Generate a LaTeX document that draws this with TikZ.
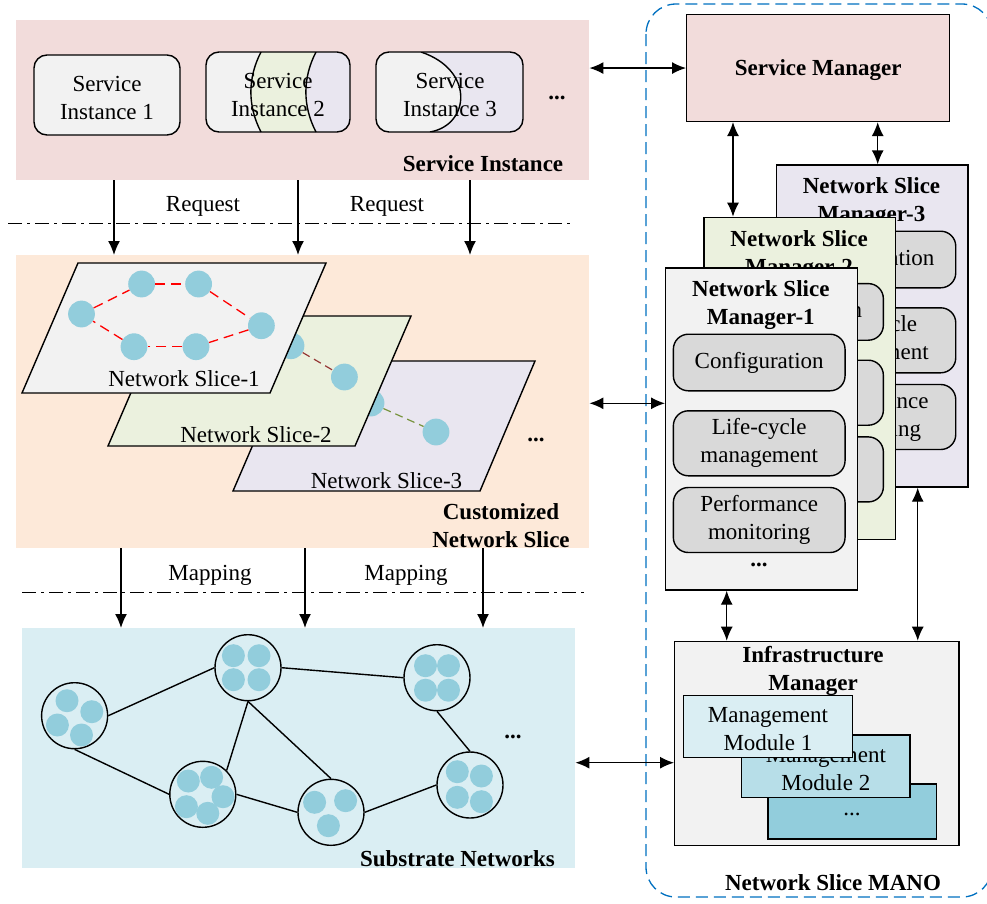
\documentclass[tikz,border=0pt]{standalone}
\usepackage{fontspec}
\setmainfont{Liberation Serif}
\usetikzlibrary{arrows.meta,positioning}

\definecolor{sipink}{HTML}{F2DCDB}
\definecolor{cnspeach}{HTML}{FDE9D9}
\definecolor{subblue}{HTML}{DAEEF3}
\definecolor{boxgray}{HTML}{F2F2F2}
\definecolor{slgreen}{HTML}{EBF1DE}
\definecolor{sllav}{HTML}{E9E6F0}
\definecolor{dotblue}{HTML}{92CDDC}
\definecolor{modgray}{HTML}{D9D9D9}
\definecolor{mmblue}{HTML}{B7DEE8}
\definecolor{manoblue}{HTML}{0070C0}
\definecolor{edgebrown}{HTML}{953735}
\definecolor{edgeolive}{HTML}{77933C}

\tikzset{
  txt/.style={font=\fontsize{23}{28}\selectfont, align=center, yshift=-2.5pt},
  bold/.style={font=\fontsize{23}{28}\selectfont\bfseries, align=center, yshift=-2.5pt},
  band/.style={inner sep=0pt, anchor=north west},
  mbox/.style={draw, line width=1.4pt, inner sep=0pt, anchor=north west},
  module/.style={draw, fill=modgray, rounded corners=15pt, line width=1.4pt, minimum width=171.7pt, inner sep=0pt, txt},
  sinode/.style={circle, fill=dotblue, minimum size=26.8pt, inner sep=0pt},
  subnode/.style={circle, draw, fill=subblue, line width=1.4pt, minimum size=66pt, inner sep=0pt},
  slice/.style={draw, line width=1.4pt},
  link/.style={line width=1.4pt, -{Latex[length=14pt,width=12pt]}},
  biglink/.style={line width=1.4pt, {Latex[length=14pt,width=12pt]}-{Latex[length=14pt,width=12pt]}},
  sep/.style={line width=1pt, dash pattern=on 14pt off 5pt on 3pt off 5pt}
}

\begin{document}
\begin{tikzpicture}[x=1pt, y=-1pt]
  \useasboundingbox (0,0) rectangle (987,903);

  % layer bands
  \node[band, fill=sipink, minimum width=573pt, minimum height=160pt] (siband) at (16,20) {};
  \node[band, fill=cnspeach, minimum width=573pt, minimum height=293pt] (cnsband) at (16,255) {};
  \node[band, fill=subblue, minimum width=553pt, minimum height=240pt] (subband) at (22,628) {};

  % service instances
  \fill[boxgray, rounded corners=13pt] (34,55) rectangle (180,135);
  \draw[line width=1.4pt, rounded corners=13pt] (34,55) rectangle (180,135);
  \node[txt] (si1) at (107,95) {Service\\Instance 1};

  \begin{scope}
    \clip[rounded corners=13pt] (206,52) rectangle (350,132);
    \fill[sllav] (206,52) rectangle (350,132);
    \fill[boxgray] (206,52) -- (261,52) .. controls (247.5,78) and (247.5,106) .. (261,132) -- (206,132) -- cycle;
    \fill[slgreen] (261,52) .. controls (247.5,78) and (247.5,106) .. (261,132) -- (316,132) .. controls (302.5,106) and (302.5,78) .. (316,52) -- cycle;
    \draw[line width=1.4pt] (261,52) .. controls (247.5,78) and (247.5,106) .. (261,132);
    \draw[line width=1.4pt] (316,52) .. controls (302.5,78) and (302.5,106) .. (316,132);
  \end{scope}
  \draw[line width=1.4pt, rounded corners=13pt] (206,52) rectangle (350,132);
  \node[txt] (si2) at (278,92) {Service\\Instance 2};

  \begin{scope}
    \clip[rounded corners=13pt] (376,52) rectangle (523,132);
    \fill[sllav] (376,52) rectangle (523,132);
    \fill[boxgray] (376,52) -- (421,52) .. controls (475,70) and (470,125) .. (430,132) -- (376,132) -- cycle;
    \draw[line width=1.4pt] (421,52) .. controls (475,70) and (470,125) .. (430,132);
  \end{scope}
  \draw[line width=1.4pt, rounded corners=13pt] (376,52) rectangle (523,132);
  \node[txt] (si3) at (450,92) {Service\\Instance 3};
  \node[bold] (sidots) at (557,95) {...};
  \node[bold] (silabel) at (483,161) {Service Instance};

  % request arrows
  \draw[sep] (8,223) -- (570,223);
  \foreach \x in {114,298,470} {
    \draw[link] (siband.south -| \x,0) -- (cnsband.north -| \x,0);
  }
  \node[txt] (req1) at (203,204) {Request};
  \node[txt] (req2) at (387,204) {Request};

  % network slices
  \draw[slice, fill=sllav] (289,361) -- (535,361) -- (480,491) -- (233,491) -- cycle;
  \node[sinode] (s3a) at (371,403) {};
  \node[sinode] (s3b) at (436,432) {};
  \draw[edgeolive, line width=1.2pt, dash pattern=on 8pt off 5pt] (s3a) -- (s3b);
  \node[txt] (ns3) at (386.5,478) {Network Slice-3};

  \draw[slice, fill=slgreen] (164,316) -- (411,316) -- (355,446) -- (108,446) -- cycle;
  \node[sinode] (s2a) at (291,345.7) {};
  \node[sinode] (s2b) at (344.4,377) {};
  \draw[edgebrown, line width=1.2pt, dash pattern=on 8pt off 5pt] (s2a) -- (s2b);
  \node[txt] (ns2) at (256,432) {Network Slice-2};

  \draw[slice, fill=boxgray] (78,263) -- (326,263) -- (270,393) -- (22,393) -- cycle;
  \node[sinode] (s1a) at (81.5,314) {};
  \node[sinode] (s1b) at (141.6,284) {};
  \node[sinode] (s1c) at (198.6,284) {};
  \node[sinode] (s1d) at (261.4,325.7) {};
  \node[sinode] (s1e) at (196,346.7) {};
  \node[sinode] (s1f) at (134,346.7) {};
  \foreach \a/\b in {s1a/s1b, s1b/s1c, s1c/s1d, s1d/s1e, s1e/s1f, s1f/s1a} {
    \draw[red, line width=1.3pt, dash pattern=on 10pt off 6pt] (\a) -- (\b);
  }
  \node[txt] (ns1) at (184,376) {Network Slice-1};
  \node[bold] (nsdots) at (536,437) {...};
  \node[bold] (cnslabel) at (501,523) {Customized\\Network Slice};

  % mapping arrows
  \draw[sep] (22,592) -- (584,592);
  \foreach \x in {121,305,483} {
    \draw[link] (cnsband.south -| \x,0) -- (subband.north -| \x,0);
  }
  \node[txt] (map1) at (210,573) {Mapping};
  \node[txt] (map2) at (406,573) {Mapping};

  % substrate networks
  \node[subnode] (na) at (74.6,715.7) {};
  \node[subnode] (nb) at (248,667.7) {};
  \node[subnode] (nc) at (437,677.7) {};
  \node[subnode] (nd) at (202.8,794.3) {};
  \node[subnode] (ne) at (331,812.3) {};
  \node[subnode] (nf) at (470,785) {};
  \draw[line width=1.4pt] (na.east) -- (nb.west);
  \draw[line width=1.4pt] (na.south) -- (nd.west);
  \draw[line width=1.4pt] (nb.south) -- (nd.45);
  \draw[line width=1.4pt] (nb.south) -- (ne.north);
  \draw[line width=1.4pt] (nb.east) -- (nc.west);
  \draw[line width=1.4pt] (nc.south) -- (nf.north);
  \draw[line width=1.4pt] (nd.east) -- (ne.west);
  \draw[line width=1.4pt] (ne.east) -- (nf.west);
  \foreach \dx/\dy in {-7.6/-15, 17.2/-4, -17.2/9.3, 6.9/19.3} {
    \fill[dotblue] (74.6+\dx,715.7+\dy) circle (11.5);
  }
  \foreach \dx/\dy in {-14.6/-12, 11/-12, -14.6/12, 11/12} {
    \fill[dotblue] (248+\dx,667.7+\dy) circle (11.5);
  }
  \foreach \dx/\dy in {-11.5/-12, 11.5/-12, -11.5/12.5, 11.5/12.5} {
    \fill[dotblue] (437+\dx,677.7+\dy) circle (11.5);
  }
  \foreach \dx/\dy in {-14.5/-13.3, 8.8/-17, 20.2/2.4, -16.4/12.4, 5/19} {
    \fill[dotblue] (202.8+\dx,794.3+\dy) circle (11.5);
  }
  \foreach \dx/\dy in {-16.4/-10, 14.6/-11.6, -2.6/13.4} {
    \fill[dotblue] (331+\dx,812.3+\dy) circle (11.5);
  }
  \foreach \dx/\dy in {-12.7/-13.3, 11.4/-9, -12.7/12.3, 11.4/16.7} {
    \fill[dotblue] (470+\dx,785+\dy) circle (11.5);
  }
  \node[bold] (subdots) at (513,734) {...};
  \node[bold] (sublabel) at (457.5,856) {Substrate Networks};

  % network slice MANO
  \draw[manoblue, line width=1.3pt, dash pattern=on 12pt off 6pt, rounded corners=30pt] (646,4) rectangle (992,897);
  \node[bold] (manolabel) at (833,880) {Network Slice MANO};

  \node[mbox, fill=sipink, minimum width=263pt, minimum height=106.7pt] (sm) at (686,14) {};
  \node[bold] (smlabel) at (sm.center) {Service Manager};

  \foreach \k/\dx/\dy/\col in {3/110.7/-103/sllav, 2/38.3/-50.6/slgreen, 1/0/0/boxgray} {
    \begin{scope}[shift={(\dx,\dy)}]
      \node[mbox, fill=\col, minimum width=191.7pt, minimum height=322pt] (nsm\k) at (665,267.3) {};
      \node[bold] (nsm\k-title) at (760.8,303) {Network Slice\\Manager-\k};
      \node[module, minimum height=56.6pt] (nsm\k-conf) at (759.2,360) {Configuration};
      \node[module, minimum height=65pt] (nsm\k-life) at (759.2,440.8) {Life-cycle\\management};
      \node[module, minimum height=65pt] (nsm\k-perf) at (759.2,517.5) {Performance\\monitoring};
      \node[bold] (nsm\k-dots) at (759,562) {...};
    \end{scope}
  }

  \node[mbox, fill=boxgray, minimum width=284.3pt, minimum height=204.3pt] (infra) at (674,640.7) {};
  \node[bold] (infratitle) at (813,668) {Infrastructure\\Manager};
  \node[mbox, fill=dotblue, minimum width=168.7pt, minimum height=55pt] (mm3) at (767.3,783.3) {};
  \node[txt] (mm3dots) at (852,812) {...};
  \node[mbox, fill=mmblue, minimum width=168.3pt, minimum height=62.4pt] (mm2) at (741,734.3) {};
  \node[txt] (mm2label) at (mm2.center) {Management\\Module 2};
  \node[mbox, fill=subblue, minimum width=169pt, minimum height=61.7pt] (mm1) at (682.7,695) {};
  \node[txt] (mm1label) at (mm1.center) {Management\\Module 1};

  % manager links
  \draw[biglink] (sm.west -| siband.east) -- (sm.west);
  \draw[biglink] (cnsband.east |- 0,403.3) -- (nsm1.west |- 0,403.3);
  \draw[biglink] (subband.east |- 0,762.7) -- (infra.west |- 0,762.7);
  \draw[biglink] (sm.south -| 733,0) -- (nsm2.north -| 733,0);
  \draw[biglink] (sm.south -| 877.7,0) -- (nsm3.north -| 877.7,0);
  \draw[biglink] (nsm1.south -| 726.7,0) -- (infra.north -| 726.7,0);
  \draw[biglink] (nsm3.south -| 917.7,0) -- (infra.north -| 917.7,0);
\end{tikzpicture}
\end{document}
